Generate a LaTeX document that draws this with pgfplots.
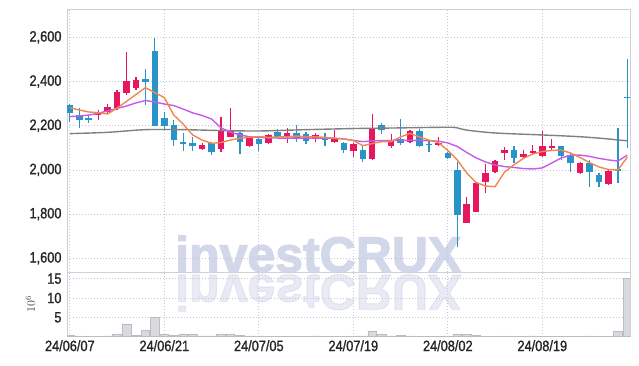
\documentclass[border=0pt]{standalone}
\usepackage{pgfplots}
\pgfplotsset{compat=1.18}
\usepackage{pgfplotstable}
\usepackage{fontspec}
\setmainfont{Liberation Sans}
\newfontfamily\tickfont{Liberation Sans}[FakeStretch=0.85, FakeBold=1.2]
\newfontfamily\wmfont{Liberation Sans}[FakeBold=2.5]

\definecolor{upred}{RGB}{230,22,95}
\definecolor{downblue}{RGB}{42,147,200}
\definecolor{maA}{RGB}{240,136,78}
\definecolor{maB}{RGB}{200,90,235}
\definecolor{maC}{RGB}{128,128,128}
\definecolor{gridc}{RGB}{196,198,222}
\definecolor{framec}{RGB}{208,208,214}
\definecolor{volfill}{RGB}{218,218,222}
\definecolor{voledge}{RGB}{188,188,196}
\definecolor{wm}{RGB}{210,215,233}

\pgfplotstableread{
i o h l c
0 2294 2298 2218 2259
1 2248 2281 2188 2226
2 2233 2244 2214 2228
8 2411 2455 2294 2399
9 2539 2595 2198 2200
10 2236 2261 2180 2200
11 2203 2226 2109 2135
12 2125 2166 2087 2120
13 2120 2150 2087 2109
15 2120 2128 2067 2080
18 2166 2173 2072 2128
20 2138 2150 2087 2117
22 2173 2184 2143 2150
24 2166 2203 2128 2138
25 2162 2173 2117 2132
27 2143 2166 2108 2135
29 2123 2128 2075 2090
31 2090 2108 2034 2048
33 2203 2214 2162 2180
35 2138 2229 2113 2123
37 2176 2184 2105 2109
38 2119 2135 2080 2114
40 2078 2082 2048 2055
41 2000 2037 1652 1796
47 2090 2108 2030 2055
52 2108 2110 2045 2064
53 2067 2075 1992 2033
55 2030 2045 1924 1992
56 1977 1985 1924 1947
58 2004 2188 1939 1997
59 2331 2500 2098 2326
}\downtab

\pgfplotstableread{
i o h l c
3 2250 2271 2226 2259
4 2263 2297 2253 2286
5 2279 2362 2271 2354
6 2349 2535 2339 2402
7 2372 2422 2362 2407
14 2095 2123 2090 2113
16 2095 2241 2082 2177
17 2150 2279 2150 2177
19 2109 2150 2105 2146
21 2123 2164 2119 2158
23 2148 2188 2120 2168
26 2138 2168 2128 2158
28 2125 2180 2120 2143
30 2087 2120 2060 2116
32 2048 2253 2045 2188
34 2109 2161 2098 2132
36 2128 2180 2120 2176
39 2111 2150 2108 2120
42 1761 1876 1758 1846
43 1811 1942 1808 1939
44 1947 2027 1897 1985
45 1989 2045 1985 2040
46 2075 2102 2045 2090
48 2057 2090 2053 2072
49 2078 2113 2072 2086
50 2064 2176 2060 2108
51 2098 2138 2090 2108
54 1987 2037 1980 2030
57 1935 2000 1932 1996
}\uptab

\pgfplotstableread{
i v
0 0.25
1 0.2
2 0.05
3 0.05
4 0.2
5 0.7
6 3.3
7 0.4
8 1.7
9 5.0
10 0.5
11 0.4
12 0.7
13 0.5
14 0.2
15 0.2
16 0.7
17 0.7
18 0.4
19 0.2
20 0.2
21 0.15
22 0.1
23 0.15
24 0.1
25 0.1
26 0.2
27 0.15
28 0.1
29 0.15
30 0.2
31 0.2
32 1.5
33 0.7
34 0.2
35 0.4
36 0.2
37 0.15
38 0.1
39 0.15
40 0.2
41 0.7
42 0.55
43 0.3
44 0.15
45 0.1
46 0.2
47 0.1
48 0.1
49 0.2
50 0.15
51 0.1
52 0.1
53 0.15
54 0.1
55 0.2
56 0.1
57 0.15
58 1.3
59 15.1
}\voltab

\pgfplotsset{
  wick/.style 2 args={draw=none, forget plot,
    error bars/.cd, y dir=plus, y explicit, error mark=none,
    error bar style={draw=#1, line width=#2}},
  body/.style={draw=none, forget plot,
    error bars/.cd, y dir=both, y explicit, error mark=none,
    error bar style={draw=#1, line width=6.5pt}},
  tickf/.style={font=\tickfont\fontsize{15}{17}\selectfont, text=black!85},
}

\begin{document}
\begin{tikzpicture}
\useasboundingbox (0pt,0pt) rectangle (639pt,366pt);

% watermark and reflection
\node[font=\wmfont\bfseries\fontsize{50}{50}\selectfont, text=wm, anchor=base west, inner sep=0pt] at (175pt,94pt) {investCRUX};
\node[font=\wmfont\bfseries\fontsize{50}{50}\selectfont, text=wm, opacity=0.5, yscale=-1, anchor=base west, inner sep=0pt] at (175pt,91pt) {investCRUX};

% price panel
\begin{axis}[
  at={(67pt,93.7pt)}, anchor=south west, scale only axis,
  width=563pt, height=263.3pt,
  xmin=-0.3, xmax=59.28, ymin=1536.6, ymax=2728,
  axis line style={framec, line width=0.8pt},
  xtick={0,10,20,30,40,50}, xticklabels={},
  ytick={1600,1800,2000,2200,2400,2600},
  grid=major, grid style={gridc, dash pattern=on 1pt off 2pt, line width=0.7pt},
  major tick length=0pt,
  yticklabel style={tickf, xshift=-2pt},
  /pgf/number format/.cd, 1000 sep={,}, assume math mode=true
]
\addplot[wick={downblue}{1.2pt}] table[x=i, y=l, y error expr=\thisrow{h}-\thisrow{l}] {\downtab};
\addplot[wick={upred}{1.2pt}] table[x=i, y=l, y error expr=\thisrow{h}-\thisrow{l}] {\uptab};
\addplot[body=downblue] table[x=i, y expr=(\thisrow{o}+\thisrow{c})/2, y error expr=abs(\thisrow{o}-\thisrow{c})/2] {\downtab};
\addplot[body=upred] table[x=i, y expr=(\thisrow{o}+\thisrow{c})/2, y error expr=abs(\thisrow{o}-\thisrow{c})/2] {\uptab};

% long moving average (gray)
\addplot[maC, line width=1.4pt, smooth, mark=none] coordinates {
(0,2164) (4,2170) (8,2182) (12,2182) (16,2178) (20,2176) (25,2182) (30,2187)
(35,2190) (40,2193) (41,2190) (42,2180) (45,2167) (50,2158) (54,2150) (57,2140) (58,2135) (59,2132)};
% mid moving average (purple)
\addplot[maB, line width=1.4pt, mark=none, line join=round] coordinates {
(0,2241) (1,2244) (2,2248) (3,2256) (4,2267) (5,2278) (6,2289) (7,2303) (8,2314) (9,2307)
(10,2298) (11,2291) (12,2275) (13,2258) (14,2246) (15,2230) (16,2190) (17,2171) (18,2158) (19,2150)
(20,2147) (21,2145) (22,2144) (23,2144) (24,2144) (25,2144) (26,2144) (27,2144) (28,2143) (29,2140)
(30,2133) (31,2128) (32,2131) (33,2133) (34,2133) (35,2134) (36,2134) (37,2133) (38,2132) (39,2130)
(40,2122) (41,2106) (42,2079) (43,2054) (44,2036) (45,2022) (46,2015) (47,2011) (48,2006) (49,2004)
(50,2009) (51,2031) (52,2054) (53,2067) (54,2067) (55,2061) (56,2052) (57,2045) (58,2040) (59,2067)};
% short moving average (orange)
\addplot[maA, line width=1.4pt, mark=none, line join=round] coordinates {
(0,2281) (1,2271) (2,2262) (3,2259) (4,2253) (5,2280) (6,2310) (7,2341) (8,2372) (9,2350)
(10,2327) (11,2248) (12,2207) (13,2158) (14,2135) (15,2120) (16,2124) (17,2135) (18,2144) (19,2147)
(20,2151) (21,2147) (22,2149) (23,2150) (24,2153) (25,2150) (26,2150) (27,2147) (28,2143) (29,2140)
(30,2133) (31,2110) (32,2119) (33,2128) (34,2128) (35,2149) (36,2165) (37,2149) (38,2135) (39,2124)
(40,2088) (41,2045) (42,1986) (43,1943) (44,1927) (45,1924) (46,1990) (47,2023) (48,2052) (49,2072)
(50,2083) (51,2088) (52,2090) (53,2076) (54,2056) (55,2033) (56,2013) (57,2002) (58,2000) (59,2058)};
\end{axis}

% volume panel
\begin{axis}[
  at={(67pt,29.3pt)}, anchor=south west, scale only axis,
  width=563pt, height=64.4pt,
  xmin=-0.3, xmax=59.28, ymin=0, ymax=16.64,
  axis line style={framec, line width=0.8pt},
  xtick={0,10,20,30,40,50},
  xticklabels={24/06/07,24/06/21,24/07/05,24/07/19,24/08/02,24/08/19},
  ytick={5,10,15},
  grid=major, grid style={gridc, dash pattern=on 1pt off 2pt, line width=0.7pt},
  major tick length=0pt,
  xticklabel style={tickf},
  yticklabel style={tickf, xshift=-2pt},
  ylabel={$10^6$},
  ylabel style={font=\fontsize{12}{14}\selectfont, text=black!75, at={(axis description cs:-0.065,0.5)}, anchor=center},
  /pgf/number format/assume math mode=true
]
\addplot[ybar, bar width=8.6pt, bar shift=0pt, fill=volfill, draw=voledge, line width=0.6pt] table[x=i, y=v] {\voltab};
\end{axis}
\end{tikzpicture}
\end{document}
